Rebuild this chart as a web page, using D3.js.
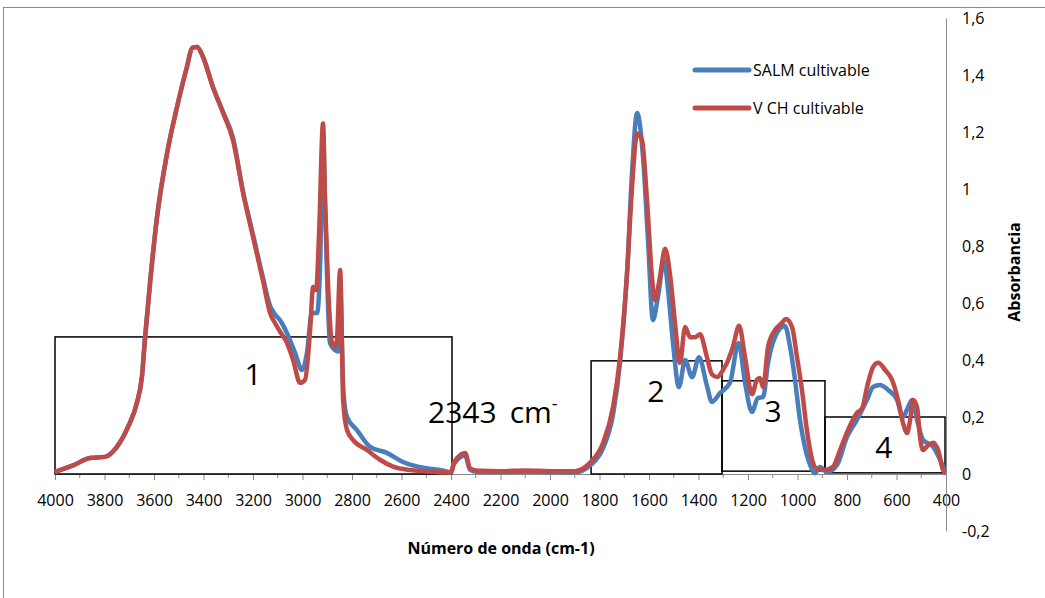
<!DOCTYPE html>
<html><head><meta charset="utf-8">
<script src="https://cdn.jsdelivr.net/npm/d3@7"></script>
<style>body{margin:0;background:#fff}svg{display:block}text{font-family:"Open Sans",sans-serif}</style>
</head><body><svg id="c" width="1045" height="598"></svg>
<script>
const xTicks = [4000,3800,3600,3400,3200,3000,2800,2600,2400,2200,2000,1800,1600,1400,1200,1000,800,600,400];
const yTicks = [-0.2,0,0.2,0.4,0.6,0.8,1,1.2,1.4,1.6];
const seriesNames = ["SALM cultivable","V CH cultivable"];

const wnSalm = [4000,3927,3859,3798,3750,3705,3669,3649,3636,3616,3588,3547,3507,3467,3446,3426,3402,3362,3321,3281,3240,3200,3160,3131,3111,3091,3063,3030,3002,2982,2962,2941,2929,2917,2909,2889,2869,2855,2848,2840,2834,2820,2780,2727,2659,2594,2500,2430,2400,2388,2343,2323,2300,2200,2100,2000,1900,1838,1786,1745,1717,1689,1669,1648,1624,1604,1584,1564,1539,1523,1503,1479,1454,1426,1398,1366,1346,1313,1273,1238,1212,1184,1160,1139,1119,1091,1051,1030,1010,990,970,949,929,909,881,840,800,760,719,695,667,634,598,574,553,537,517,493,452,424,404];
const absSalm = [0.007,0.03,0.056,0.06,0.095,0.165,0.25,0.34,0.48,0.67,0.90,1.126,1.288,1.428,1.495,1.498,1.463,1.358,1.27,1.18,0.99,0.84,0.69,0.59,0.56,0.54,0.495,0.425,0.365,0.425,0.565,0.565,0.727,1.2,0.95,0.46,0.435,0.43,0.68,0.43,0.28,0.2,0.154,0.095,0.074,0.042,0.02,0.012,0.005,0.035,0.065,0.015,0.008,0.006,0.008,0.006,0.005,0.03,0.09,0.21,0.39,0.70,1.05,1.267,1.11,0.82,0.54,0.62,0.75,0.646,0.46,0.305,0.40,0.34,0.41,0.31,0.253,0.284,0.32,0.46,0.32,0.218,0.267,0.27,0.39,0.48,0.52,0.446,0.33,0.19,0.095,0.032,0.003,0.025,0.007,0.032,0.13,0.19,0.26,0.305,0.312,0.295,0.26,0.20,0.235,0.26,0.19,0.12,0.095,0.05,0.007];

const wnVch = [4000,3927,3859,3798,3750,3705,3669,3649,3636,3616,3588,3547,3507,3467,3446,3426,3402,3362,3321,3281,3240,3200,3160,3131,3111,3091,3063,3038,3010,2990,2970,2957,2945,2933,2917,2909,2897,2881,2869,2861,2848,2840,2836,2820,2796,2739,2687,2634,2566,2500,2400,2388,2343,2323,2300,2200,2100,2000,1900,1838,1786,1745,1717,1689,1669,1648,1628,1608,1588,1576,1556,1535,1515,1495,1475,1454,1434,1414,1394,1366,1346,1325,1301,1285,1261,1236,1212,1184,1164,1152,1139,1119,1091,1063,1047,1022,1002,982,962,941,921,889,857,828,796,760,739,719,695,674,646,618,594,574,557,545,533,517,505,493,473,452,432,412,400];
const absVch = [0.007,0.03,0.056,0.06,0.095,0.165,0.25,0.34,0.48,0.67,0.90,1.126,1.288,1.428,1.495,1.498,1.463,1.358,1.267,1.172,0.986,0.832,0.68,0.565,0.53,0.50,0.46,0.40,0.32,0.33,0.495,0.656,0.645,0.845,1.23,0.96,0.67,0.46,0.446,0.47,0.716,0.435,0.26,0.154,0.12,0.084,0.05,0.026,0.014,0.01,0.005,0.04,0.074,0.02,0.012,0.01,0.012,0.01,0.01,0.04,0.108,0.236,0.41,0.70,1.0,1.195,1.17,0.96,0.69,0.61,0.69,0.79,0.70,0.53,0.39,0.516,0.48,0.48,0.49,0.41,0.35,0.34,0.365,0.39,0.446,0.52,0.41,0.28,0.33,0.337,0.305,0.446,0.505,0.53,0.544,0.516,0.41,0.295,0.154,0.05,0.018,0.014,0.025,0.084,0.154,0.214,0.23,0.305,0.375,0.39,0.365,0.33,0.26,0.18,0.144,0.19,0.26,0.235,0.13,0.084,0.10,0.11,0.084,0.014,0.003];

// annotation boxes
const boxWnFrom = [4000,1834,1305,889];
const boxWnTo = [2396,1305,889,404];
const boxTop = [0.481,0.397,0.327,0.2];
const boxBottom = [0,0,0.01,0.004];
const boxLabels = ["1","2","3","4"];
const boxLabelWn = [3200,1572,1099,651];
const boxLabelAbs = [0.312,0.253,0.182,0.055];

const svg = d3.select("#c");
const x = d3.scaleLinear().domain([4000,400]).range([55,946]);
const y = d3.scaleLinear().domain([-0.2,1.6]).range([531,18]);

// outer frame
svg.append("rect").attr("x",3.5).attr("y",7.5).attr("width",1200).attr("height",800)
  .attr("fill","none").attr("stroke","#8a8a8a").attr("stroke-width",1);

// x axis
const xAxis = d3.axisBottom(x).tickValues(xTicks).tickSize(6).tickFormat(d3.format("d"));
const gx = svg.append("g").attr("transform",`translate(0,${y(0)})`).call(xAxis);
gx.select(".domain").attr("stroke","#8a8a8a");
gx.selectAll(".tick line").attr("stroke","#8a8a8a");
gx.selectAll(".tick text").attr("font-size",16).attr("fill","#000").attr("y",26).attr("dy","0.36em").attr("font-family","Open Sans");
const minor = d3.range(3900,400,-200);
gx.selectAll(".minor").data(minor).enter().append("line").attr("class","minor")
  .attr("x1",d=>x(d)).attr("x2",d=>x(d)).attr("y1",0).attr("y2",4).attr("stroke","#8a8a8a");

// y axis
const yAxis = d3.axisRight(y).tickValues(yTicks).tickSize(0).tickPadding(16)
  .tickFormat(d=>String(Math.round(d*10)/10).replace(".",",").replace("\u2212","-"));
const gy = svg.append("g").attr("transform",`translate(${x(400)},0)`).call(yAxis);
gy.select(".domain").attr("stroke","#8a8a8a");
gy.selectAll(".tick text").attr("font-size",16).attr("fill","#000").attr("font-family","Open Sans");

// boxes
boxLabels.forEach((l,i)=>{
  svg.append("rect").attr("x",x(boxWnFrom[i])).attr("y",y(boxTop[i]))
    .attr("width",x(boxWnTo[i])-x(boxWnFrom[i])).attr("height",y(boxBottom[i])-y(boxTop[i]))
    .attr("fill","none").attr("stroke","#000").attr("stroke-width",1.5);
});

// lines
const line = d3.line().x(d=>x(d[0])).y(d=>y(d[1])).curve(d3.curveMonotoneX);
const dataSalm = wnSalm.map((w,i)=>[w,absSalm[i]]);
const dataVch = wnVch.map((w,i)=>[w,absVch[i]]);
svg.append("path").attr("d",line(dataSalm)).attr("fill","none").attr("stroke","#4A7EBB").attr("stroke-width",4.5).attr("stroke-linejoin","round");
svg.append("path").attr("d",line(dataVch)).attr("fill","none").attr("stroke","#BE4B48").attr("stroke-width",4.5).attr("stroke-linejoin","round");

// box labels
boxLabels.forEach((l,i)=>{
  svg.append("text").attr("x",x(boxLabelWn[i])).attr("y",y(boxLabelAbs[i])).attr("text-anchor","middle")
    .attr("font-family","Liberation Sans, Arial").attr("font-size",30).text(l);
});
const note = svg.append("text").attr("x",428).attr("y",423).attr("font-family","Liberation Sans, Arial").attr("font-size",30);
note.append("tspan").text("2343");
note.append("tspan").attr("dx",13).text("cm");
note.append("tspan").attr("dy",-13).attr("font-size",18).text("-");

// legend
const legColors = ["#4A7EBB","#BE4B48"];
seriesNames.forEach((n,i)=>{
  const ly = 70 + i*38;
  svg.append("line").attr("x1",695).attr("x2",749).attr("y1",ly).attr("y2",ly).attr("stroke",legColors[i]).attr("stroke-width",5).attr("stroke-linecap","round");
  svg.append("text").attr("x",753).attr("y",ly).attr("dy","0.35em").attr("font-size",16).text(n);
});

// axis titles
svg.append("text").attr("x",501).attr("y",548).attr("dy","0.35em").attr("text-anchor","middle").attr("font-weight","bold").attr("font-size",16).text("Número de onda (cm-1)");
svg.append("text").attr("transform","translate(1014,272) rotate(-90)").attr("dy","0.35em").attr("text-anchor","middle").attr("font-weight","bold").attr("font-size",16).text("Absorbancia");
</script></body></html>
